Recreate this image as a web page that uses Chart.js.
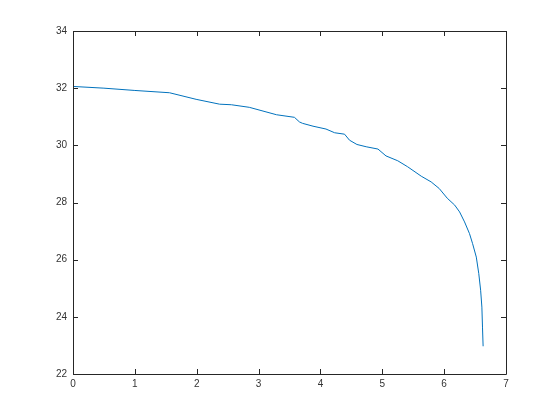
<!DOCTYPE html>
<html>
<head>
<meta charset="utf-8">
<script src="https://cdn.jsdelivr.net/npm/chart.js@4/dist/chart.umd.min.js"></script>
<style>
html,body{margin:0;padding:0;background:#fff;}
#wrap{width:560px;height:420px;position:relative;}
</style>
</head>
<body>
<div id="wrap"><canvas id="c" width="560" height="420"></canvas></div>
<script>
const xValues = [0, 0.5, 1.0, 1.56, 1.99, 2.37, 2.56, 2.85, 3.29, 3.58, 3.66, 3.71, 3.88, 4.09, 4.23, 4.39, 4.47, 4.59, 4.74, 4.93, 5.06, 5.25, 5.41, 5.63, 5.79, 5.92, 6.05, 6.17, 6.25, 6.33, 6.41, 6.46, 6.52, 6.56, 6.59, 6.61, 6.62, 6.63];
const yValues = [32.06, 32.00, 31.92, 31.84, 31.61, 31.44, 31.42, 31.33, 31.07, 30.98, 30.82, 30.77, 30.67, 30.57, 30.44, 30.39, 30.18, 30.03, 29.95, 29.87, 29.63, 29.46, 29.25, 28.92, 28.72, 28.49, 28.15, 27.91, 27.67, 27.32, 26.91, 26.56, 26.09, 25.51, 24.93, 24.34, 23.64, 22.97];
const xTicks = [0, 1, 2, 3, 4, 5, 6, 7];
const yTicks = [22, 24, 26, 28, 30, 32, 34];

const points = xValues.map((x, i) => ({x: x, y: yValues[i]}));
const axisColor = '#262626';

const boxPlugin = {
  id: 'matlabBox',
  afterDraw(chart) {
    const {ctx, chartArea: a, scales} = chart;
    ctx.save();
    ctx.strokeStyle = axisColor;
    ctx.lineWidth = 1;
    ctx.beginPath();
    ctx.rect(Math.round(a.left) + 0.5, Math.round(a.top) + 0.5, Math.round(a.right - a.left), Math.round(a.bottom - a.top));
    ctx.stroke();
    const L = 5;
    ctx.beginPath();
    xTicks.forEach(v => {
      const px = Math.round(scales.x.getPixelForValue(v)) + 0.5;
      ctx.moveTo(px, a.bottom); ctx.lineTo(px, a.bottom - L);
      ctx.moveTo(px, a.top); ctx.lineTo(px, a.top + L);
    });
    yTicks.forEach(v => {
      const py = Math.round(scales.y.getPixelForValue(v)) + 0.5;
      ctx.moveTo(a.left, py); ctx.lineTo(a.left + L, py);
      ctx.moveTo(a.right, py); ctx.lineTo(a.right - L, py);
    });
    ctx.stroke();
    ctx.restore();
  }
};

new Chart(document.getElementById('c'), {
  type: 'scatter',
  data: {
    datasets: [{
      data: points,
      showLine: true,
      borderColor: '#0072BD',
      backgroundColor: '#0072BD',
      borderWidth: 1,
      borderJoinStyle: 'round',
      borderCapStyle: 'butt',
      pointRadius: 0,
      tension: 0,
      fill: false
    }]
  },
  options: {
    responsive: false,
    animation: false,
    devicePixelRatio: 1,
    layout: {padding: {left: 0, top: 31, right: 54, bottom: 0}},
    plugins: {legend: {display: false}, tooltip: {enabled: false}},
    scales: {
      x: {
        type: 'linear', min: 0, max: 7,
        afterBuildTicks: s => { s.ticks = xTicks.map(v => ({value: v})); },
        afterFit: s => { s.height = 46; },
        grid: {display: false, drawTicks: false},
        border: {display: false},
        ticks: {color: '#333333', padding: 4, font: {family: 'Liberation Sans, Arial, sans-serif', size: 10}, maxRotation: 0}
      },
      y: {
        type: 'linear', min: 22, max: 34,
        afterBuildTicks: s => { s.ticks = yTicks.map(v => ({value: v})); },
        afterFit: s => { s.width = 73; },
        grid: {display: false, drawTicks: false},
        border: {display: false},
        ticks: {color: '#333333', padding: 6, font: {family: 'Liberation Sans, Arial, sans-serif', size: 10}}
      }
    }
  },
  plugins: [boxPlugin]
});
</script>
</body>
</html>
